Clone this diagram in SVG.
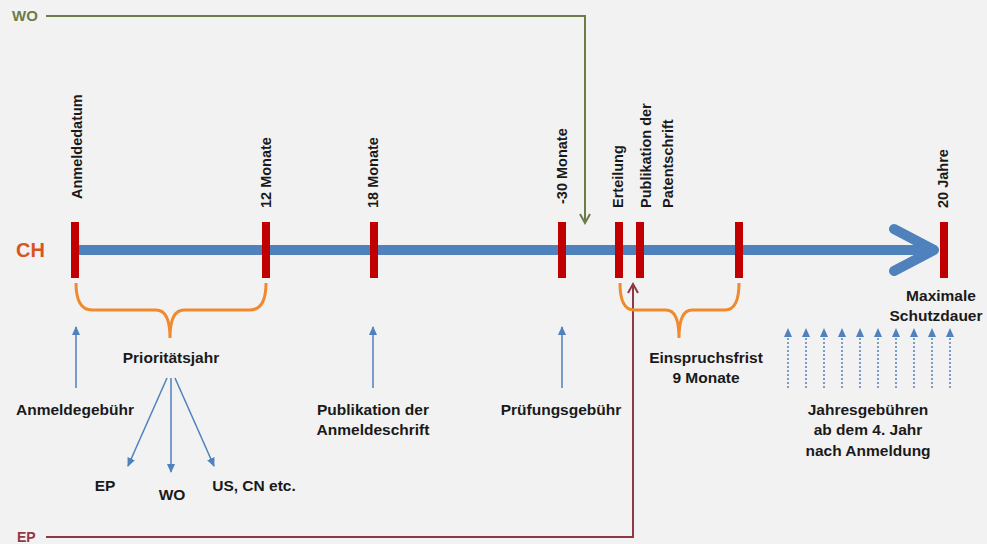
<svg xmlns="http://www.w3.org/2000/svg" width="987" height="544" viewBox="0 0 987 544">
<style>
text{font-family:"Liberation Sans",Arial,sans-serif;font-weight:bold;font-size:15.5px;fill:#1a1a1a}
.r{font-size:14.5px}
.c{text-anchor:middle}
.tick{fill:#c00000}
.brace{fill:none;stroke:#f08a2c;stroke-width:3}
.thin{fill:none;stroke:#4f81bd;stroke-width:1.5}
.dot{fill:none;stroke:#4f81bd;stroke-width:1.5;stroke-dasharray:2 2}
</style>
<defs>
<marker id="ab" markerUnits="userSpaceOnUse" markerWidth="10" markerHeight="10" viewBox="0 0 10 10" refX="8" refY="5" orient="auto"><path d="M0,1 L9,5 L0,9 Z" fill="#4f81bd"/></marker>
<marker id="ag" markerUnits="userSpaceOnUse" markerWidth="12" markerHeight="12" viewBox="0 0 12 12" refX="10" refY="6" orient="auto"><path d="M1,1 L10,6 L1,11" fill="none" stroke="#6b7b4a" stroke-width="2"/></marker>
<marker id="ar" markerUnits="userSpaceOnUse" markerWidth="12" markerHeight="12" viewBox="0 0 12 12" refX="10" refY="6" orient="auto"><path d="M1,1 L10,6 L1,11" fill="none" stroke="#8e3a46" stroke-width="2"/></marker>
</defs>
<rect width="987" height="544" fill="#f2f2f2"/>

<g id="connectors">
<path d="M46,16 H585 V223" fill="none" stroke="#6b7b4a" stroke-width="2" marker-end="url(#ag)"/>
<path d="M46,537 H633 V284" fill="none" stroke="#8e3a46" stroke-width="2" marker-end="url(#ar)"/>
<path class="thin" d="M76,388 V327" marker-end="url(#ab)"/>
<path class="thin" d="M373,388 V327" marker-end="url(#ab)"/>
<path class="thin" d="M562,388 V327" marker-end="url(#ab)"/>
<path class="thin" d="M167,378 L128,466" marker-end="url(#ab)"/>
<path class="thin" d="M171,378 V472" marker-end="url(#ab)"/>
<path class="thin" d="M175,378 L214,466" marker-end="url(#ab)"/>
<g>
<path class="dot" d="M788,388 V329" marker-end="url(#ab)"/>
<path class="dot" d="M806,388 V329" marker-end="url(#ab)"/>
<path class="dot" d="M824,388 V329" marker-end="url(#ab)"/>
<path class="dot" d="M842,388 V329" marker-end="url(#ab)"/>
<path class="dot" d="M860,388 V329" marker-end="url(#ab)"/>
<path class="dot" d="M878,388 V329" marker-end="url(#ab)"/>
<path class="dot" d="M896,388 V329" marker-end="url(#ab)"/>
<path class="dot" d="M914,388 V329" marker-end="url(#ab)"/>
<path class="dot" d="M932,388 V329" marker-end="url(#ab)"/>
<path class="dot" d="M950,388 V329" marker-end="url(#ab)"/>
</g>
</g>

<g id="labels-lines">
<text x="12" y="21" style="fill:#6b7b4a;font-size:15px">WO</text>
<text x="17" y="542" style="fill:#8e3a46;font-size:14px">EP</text>
</g>

<g id="timeline">
<text x="16" y="257" style="fill:#d9541e;font-size:20px">CH</text>
<rect x="76" y="245" width="856" height="10" fill="#4f81bd"/>
<path d="M894,229 L934,250 L894,271" fill="none" stroke="#4f81bd" stroke-width="10" stroke-linecap="round" stroke-linejoin="round"/>
</g>

<g id="t-anmeldedatum">
<rect class="tick" x="71" y="222" width="8" height="56"/>
<text class="r" transform="translate(82,199) rotate(-90)">Anmeldedatum</text>
</g>
<g id="t-12">
<rect class="tick" x="262" y="222" width="8" height="56"/>
<text class="r" transform="translate(271,208) rotate(-90)">12 Monate</text>
</g>
<g id="t-18">
<rect class="tick" x="370" y="222" width="8" height="56"/>
<text class="r" transform="translate(378,208) rotate(-90)">18 Monate</text>
</g>
<g id="t-30">
<rect class="tick" x="558" y="222" width="8" height="56"/>
<text class="r" transform="translate(567,204) rotate(-90)">-30 Monate</text>
</g>
<g id="t-erteilung">
<rect class="tick" x="615" y="222" width="8" height="56"/>
<text class="r" transform="translate(623,208) rotate(-90)">Erteilung</text>
</g>
<g id="t-publikation">
<rect class="tick" x="636" y="222" width="8" height="56"/>
<text class="r" transform="translate(651,208) rotate(-90)">Publikation der</text>
<text class="r" transform="translate(673,208) rotate(-90)">Patentschrift</text>
</g>
<g id="t-9">
<rect class="tick" x="735" y="222" width="8" height="56"/>
</g>
<g id="t-20">
<rect class="tick" x="940" y="222" width="8" height="56"/>
<text class="r" transform="translate(948,208) rotate(-90)">20 Jahre</text>
</g>

<g id="prioritaetsjahr">
<path class="brace" d="M76,283 Q76,310 92,310 L156,310 Q170,310 170,338 Q170,310 184,310 L250,310 Q266,310 266,283"/>
<text class="c" x="171" y="363">Prioritätsjahr</text>
</g>
<g id="einspruchsfrist">
<path class="brace" d="M620,283 Q620,310 634,310 L666,310 Q679,310 679,338 Q679,310 692,310 L725,310 Q739,310 739,283"/>
<text class="c" x="706" y="363">Einspruchsfrist</text>
<text class="c" x="706" y="383">9 Monate</text>
</g>
<g id="anmeldegebuehr"><text class="c" x="75" y="415">Anmeldegebühr</text></g>
<g id="publikation-anmeldeschrift">
<text class="c" x="373" y="415">Publikation der</text>
<text class="c" x="373" y="435">Anmeldeschrift</text>
</g>
<g id="pruefungsgebuehr"><text class="c" x="561" y="415">Prüfungsgebühr</text></g>
<g id="schutzdauer">
<text class="c" x="941" y="301">Maximale</text>
<text class="c" x="936" y="321">Schutzdauer</text>
</g>
<g id="jahresgebuehren">
<text class="c" x="868" y="415">Jahresgebühren</text>
<text class="c" x="868" y="435">ab dem 4. Jahr</text>
<text class="c" x="868" y="456">nach Anmeldung</text>
</g>
<g id="ep"><text class="c" x="105" y="491">EP</text></g>
<g id="wo"><text class="c" x="172" y="500">WO</text></g>
<g id="us"><text class="c" x="254" y="491">US, CN etc.</text></g>
</svg>
